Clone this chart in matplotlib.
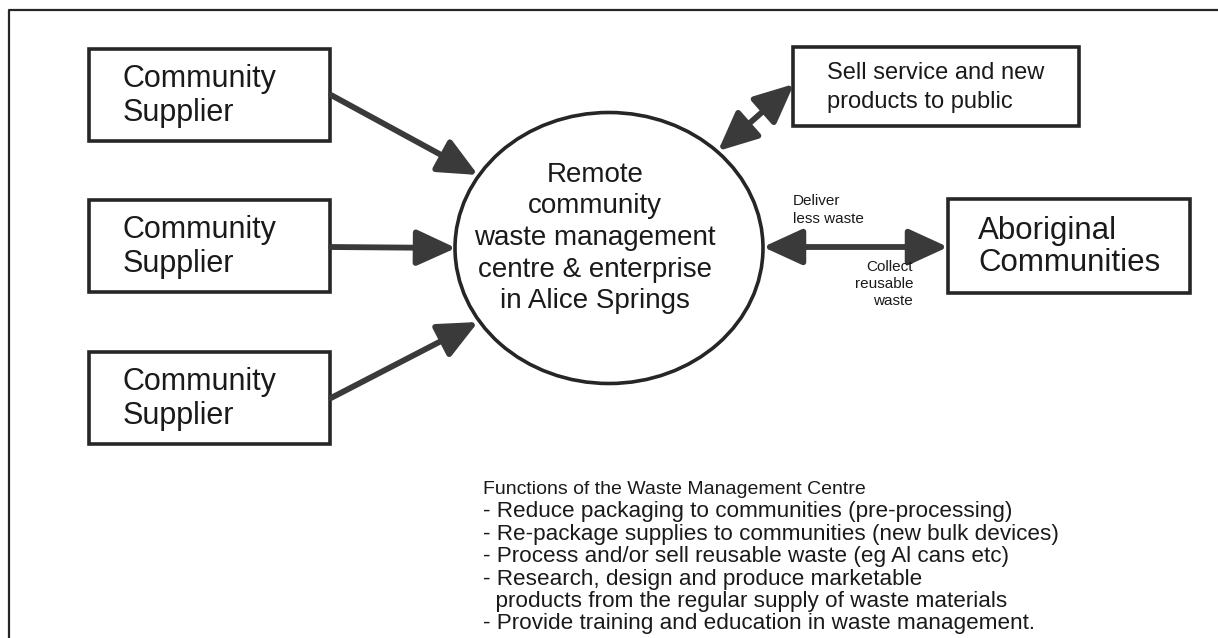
### Remote community waste management diagram

import matplotlib
matplotlib.use("Agg")
import matplotlib.pyplot as plt
from matplotlib.patches import Rectangle, Ellipse, FancyArrowPatch

plt.rcParams['font.family'] = ['Liberation Sans', 'DejaVu Sans']

# Text content
supplier_labels = ["Community\nSupplier", "Community\nSupplier", "Community\nSupplier"]
public_label = "Sell service and new\nproducts to public"
aboriginal_label = "Aboriginal\nCommunities"
centre_label = "Remote\ncommunity\nwaste management\ncentre & enterprise\nin Alice Springs"
deliver_label = "Deliver\nless waste"
collect_label = "Collect\nreusable\nwaste"
functions_title = "Functions of the Waste Management Centre"
functions_items = [
    "- Reduce packaging to communities (pre-processing)",
    "- Re-package supplies to communities (new bulk devices)",
    "- Process and/or sell reusable waste (eg Al cans etc)",
    "- Research, design and produce marketable",
    "  products from the regular supply of waste materials",
    "- Provide training and education in waste management.",
]

# Layout (pixel coords, y down)
W, H = 1218, 638
supplier_boxes = [(89, 49, 330, 141), (89, 200, 330, 292), (89, 352, 330, 444)]
public_box = (793, 47, 1079, 126)
abor_box = (948, 199, 1190, 293)
cx, cy, ew, eh = 609, 248, 308, 271

ink = "#262626"
arrow_col = "#3a3a3a"

fig = plt.figure(figsize=(W / 100, H / 100), dpi=100)
ax = fig.add_axes([0, 0, 1, 1])
ax.set_xlim(0, W)
ax.set_ylim(H, 0)
ax.axis("off")

# outer frame (only top and left edges show in the scan)
ax.plot([9, 9, W], [H, 10, 10], color=ink, lw=1.6, solid_capstyle="butt")


def box(b, lw=2.6):
    x0, y0, x1, y1 = b
    ax.add_patch(Rectangle((x0, y0), x1 - x0, y1 - y0, fill=False, ec=ink, lw=lw))


for b, lab in zip(supplier_boxes, supplier_labels):
    box(b)
    ax.text(b[0] + 34, (b[1] + b[3]) / 2 + 1, lab, fontsize=22, color="#1a1a1a",
            ha="left", va="center", linespacing=1.2)

box(public_box)
ax.text(public_box[0] + 34, (public_box[1] + public_box[3]) / 2 + 1, public_label,
        fontsize=17, color="#1a1a1a", ha="left", va="center", linespacing=1.38)

box(abor_box)
ax.text(abor_box[0] + 30, (abor_box[1] + abor_box[3]) / 2 + 1, aboriginal_label,
        fontsize=22.5, color="#1a1a1a", ha="left", va="center", linespacing=1.12)

ax.add_patch(Ellipse((cx, cy), ew, eh, fill=False, ec=ink, lw=2.6))
ax.text(cx - 14, cy - 10, centre_label, fontsize=20, color="#1a1a1a",
        ha="center", va="center", linespacing=1.28)


def arrow(p0, p1, both=False):
    style = "<|-|>" if both else "-|>"
    ax.add_patch(FancyArrowPatch(p0, p1, arrowstyle=style + ",head_length=1.2,head_width=0.55",
                                 mutation_scale=20, color=arrow_col, lw=4.2,
                                 shrinkA=0, shrinkB=0))


arrow((331, 95), (478, 175))
arrow((331, 247), (456, 248))
arrow((331, 398), (478, 322))
arrow((718, 151), (794, 84), both=True)
arrow((763, 247), (948, 247), both=True)

ax.text(793, 210, deliver_label, fontsize=11, color="#1a1a1a",
        ha="left", va="center", linespacing=1.3)
ax.text(913, 284, collect_label, fontsize=11, color="#1a1a1a",
        ha="right", va="center", linespacing=1.3)

ax.text(483, 489, functions_title, fontsize=14, color="#1a1a1a", ha="left", va="center")
for i, item in enumerate(functions_items):
    ax.text(483, 512 + 22.4 * i, item, fontsize=16.2, color="#1a1a1a", ha="left", va="center")

fig.savefig("out.png", dpi=100)
